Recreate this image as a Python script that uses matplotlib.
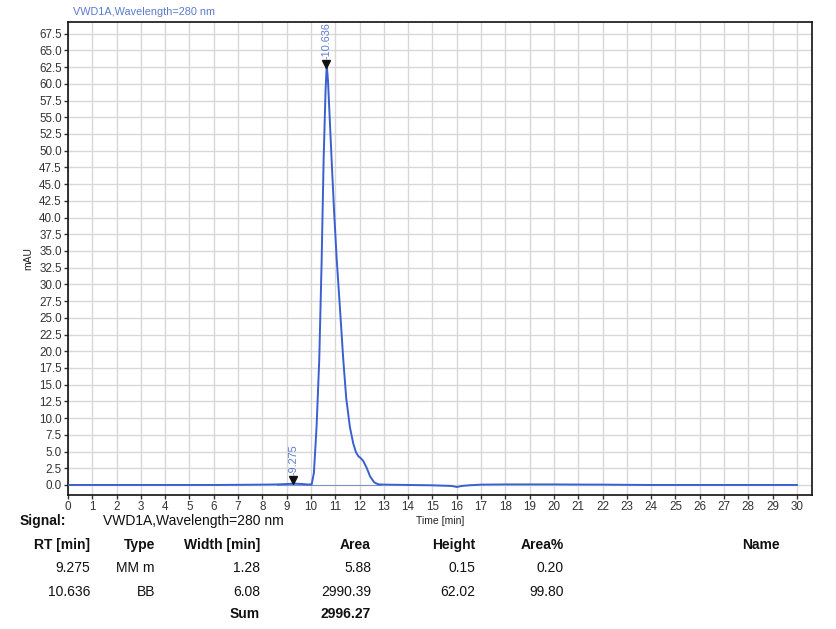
import matplotlib
matplotlib.use("Agg")
import matplotlib.pyplot as plt

plt.rcParams['font.family'] = ['Liberation Sans', 'DejaVu Sans']

# ---- data ----
signal_name = "VWD1A,Wavelength=280 nm"
time_min = [0, 1, 2, 3, 4, 5, 6, 7, 8, 8.6, 9.0, 9.3, 9.6, 9.9, 10.03, 10.12, 10.23,
            10.34, 10.44, 10.52, 10.6, 10.65, 10.7, 10.85, 10.95, 11.06, 11.2, 11.33,
            11.45, 11.6, 11.74, 11.85, 11.95, 12.05, 12.15, 12.3, 12.43, 12.6, 12.76,
            13, 14, 15, 15.8, 16.0, 16.2, 16.5, 17, 18, 19, 20, 21, 22, 23, 24, 25,
            26, 27, 28, 29, 30]
mau = [0.0, 0.0, 0.0, 0.0, 0.0, 0.0, 0.0, 0.02, 0.05, 0.08, 0.14, 0.2, 0.15, 0.06,
       0.1, 1.8, 8.7, 18.7, 33.7, 48.6, 59.0, 62.9, 60.5, 48.6, 41.0, 33.7, 26.0,
       18.7, 13.0, 8.7, 6.2, 4.9, 4.3, 4.0, 3.6, 2.5, 1.3, 0.4, 0.1, 0.05, 0.0,
       -0.05, -0.15, -0.3, -0.15, -0.05, 0.05, 0.08, 0.08, 0.08, 0.06, 0.05, 0.02,
       0.0, 0.0, 0.0, 0.0, 0.0, 0.0, 0.0]
peak_rt = [9.275, 10.636]
peak_marker_y = [0.75, 62.9]
peak_labels = ["9.275", "10.636"]
baseline_x = [8.6, 12.9]
baseline_y = [0.0, 0.0]

x_ticks = list(range(0, 31))
y_ticks = [i * 2.5 for i in range(0, 28)]

table_header = ["RT [min]", "Type", "Width [min]", "Area", "Height", "Area%", "Name"]
rt_col = ["9.275", "10.636"]
type_col = ["MM m", "BB"]
width_col = ["1.28", "6.08"]
area_col = ["5.88", "2990.39"]
height_col = ["0.15", "62.02"]
areapct_col = ["0.20", "99.80"]
sum_area = "2996.27"

# ---- figure ----
W, H = 836, 629
fig = plt.figure(figsize=(W / 100, H / 100), dpi=100)
fig.patch.set_facecolor('white')

ax = fig.add_axes([68 / W, 1 - 495 / H, (812 - 68) / W, (495 - 22) / H])
blue = '#3a5fd0'
lblue = '#5a7bd0'

ax.plot(time_min, mau, color=blue, lw=1.4, zorder=3)
ax.plot(baseline_x, baseline_y, color=blue, lw=0.7, alpha=0.6, zorder=2)
ax.plot(peak_rt, peak_marker_y, linestyle='none', marker='v', color='#111111',
        markersize=6, zorder=4)
for rt, yy, lab in zip(peak_rt, peak_marker_y, peak_labels):
    ax.text(rt, yy + 0.8, '-' + lab, rotation=90, ha='center', va='bottom',
            color=lblue, fontsize=7.8, zorder=5)

ax.set_xlim(0, 30.62)
ax.set_ylim(-1.5, 69.25)
ax.set_xticks(x_ticks)
ax.set_yticks(y_ticks)
ax.set_xticklabels([str(v) for v in x_ticks], fontsize=8.4, color='#333333')
ax.set_yticklabels([f"{v:.1f}" for v in y_ticks], fontsize=8.4, color='#333333')
ax.grid(True, color='#d8d8d8', lw=1.0, zorder=0)
ax.set_axisbelow(True)
for s in ax.spines.values():
    s.set_color('#111111')
    s.set_linewidth(1.2)
ax.tick_params(axis='both', length=3, width=1, color='#333333', pad=1.5)
ax.set_xlabel("Time [min]", fontsize=7.5, labelpad=2, color='#222222')
ax.set_ylabel("mAU", fontsize=7.5, labelpad=4, color='#222222')

fig.text(73 / W, 1 - 12 / H, signal_name, color=lblue, fontsize=7.8,
         ha='left', va='center')

# ---- table ----
def ft(x, y, s, ha='right', bold=False, size=10):
    fig.text(x / W, 1 - y / H, s, ha=ha, va='center', fontsize=size,
             fontweight='bold' if bold else 'normal', color='#111111')

ft(20, 521, "Signal:", ha='left', bold=True)
ft(103, 521, signal_name, ha='left')

col_x = [90, 155, 260, 371, 475, 564, 780]
row_h, row1, row2, row_sum = 545, 568, 592, 614
for cx, h in zip(col_x, table_header):
    ft(cx, row_h, h, bold=True)
cols = [rt_col, type_col, width_col, area_col, height_col, areapct_col]
for cx, col in zip(col_x, cols):
    ft(cx, row1, col[0])
    ft(cx, row2, col[1])
ft(col_x[2], row_sum, "Sum", bold=True)
ft(col_x[3], row_sum, sum_area, bold=True)

fig.savefig("out.png", dpi=100, facecolor='white')
